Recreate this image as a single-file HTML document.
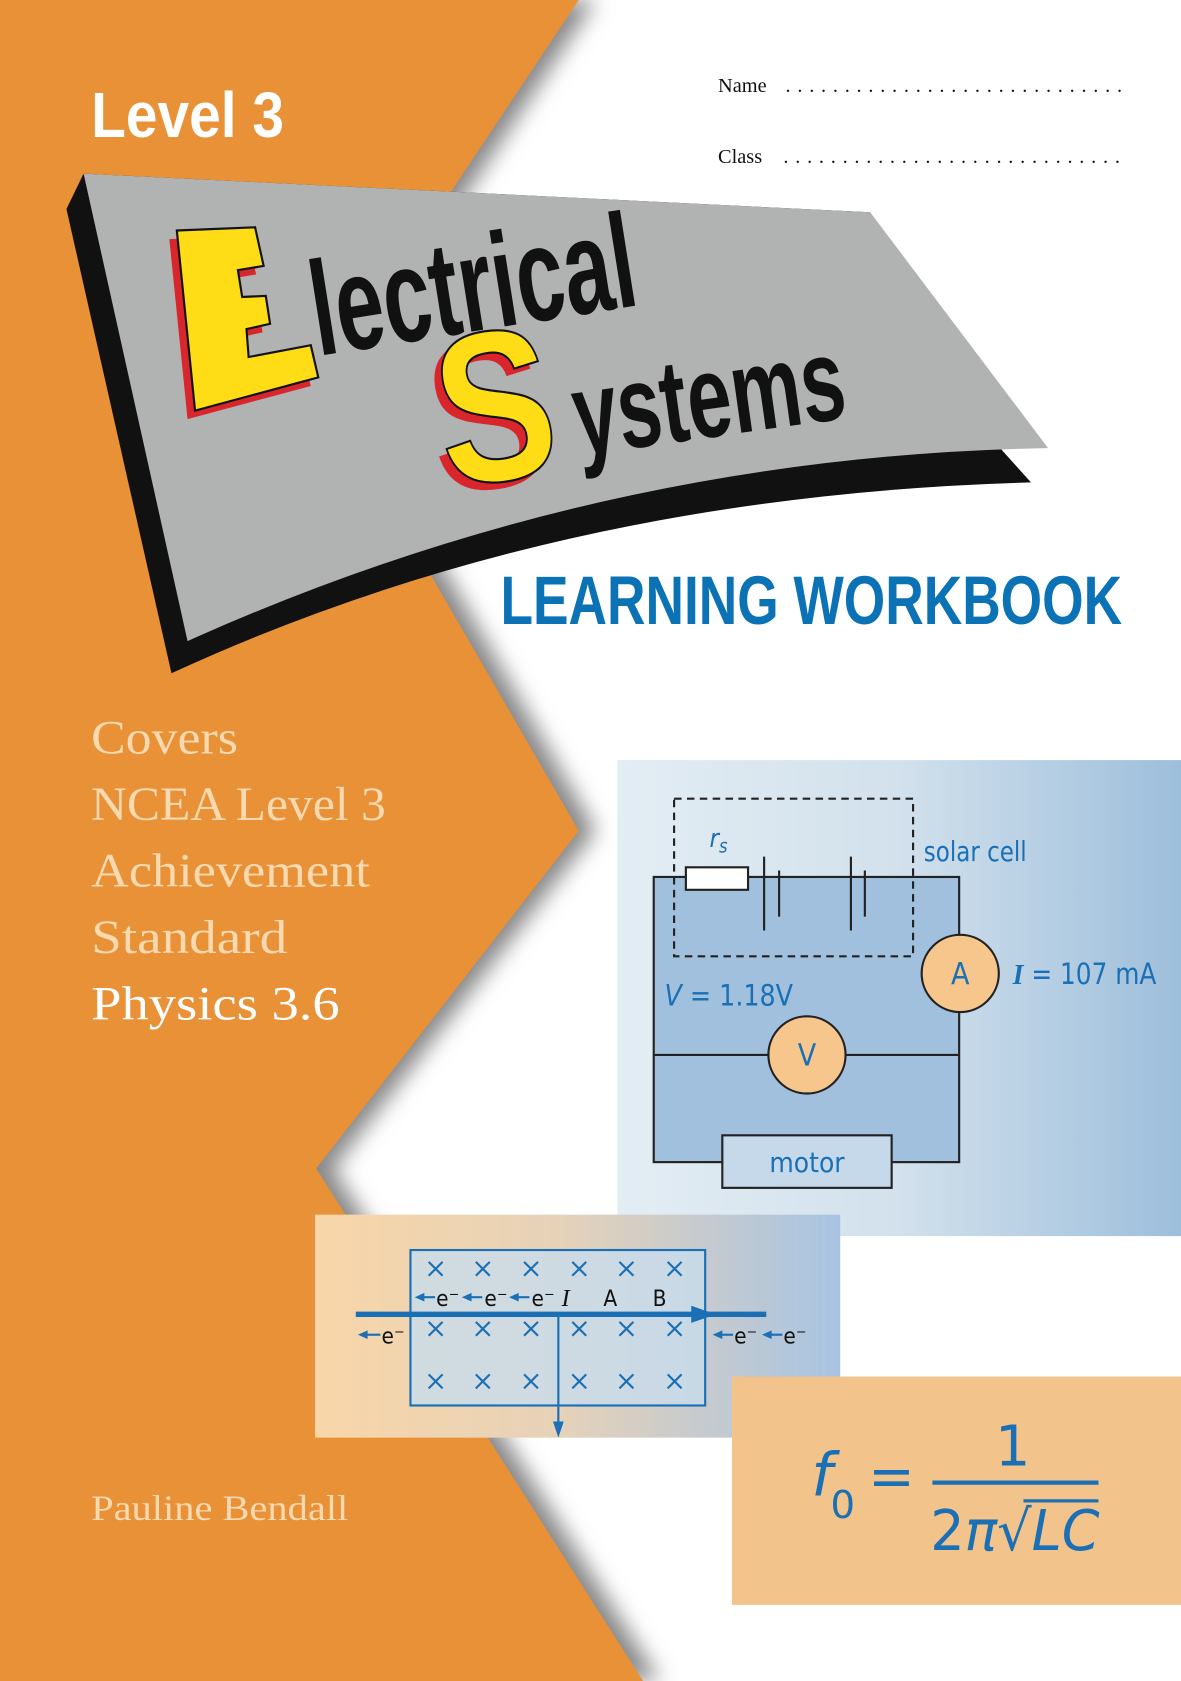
<!DOCTYPE html>
<html><head><meta charset="utf-8"><style>
html,body{margin:0;padding:0;background:#fff;}
svg{display:block;}
</style></head><body>
<svg width="1181" height="1681" viewBox="0 0 1102 1568" preserveAspectRatio="none" xmlns="http://www.w3.org/2000/svg">
<defs>
<filter id="bl" x="-20%" y="-20%" width="140%" height="140%"><feGaussianBlur stdDeviation="10"/></filter>
<linearGradient id="g1" x1="0" x2="1" y1="0" y2="0"><stop offset="0" stop-color="#e3edf4"/><stop offset="0.5" stop-color="#d2e1ec"/><stop offset="1" stop-color="#9dbedb"/></linearGradient>
<linearGradient id="g2" x1="0" x2="1" y1="0" y2="0"><stop offset="0" stop-color="#f8d6a8"/><stop offset="0.45" stop-color="#e7d2b8"/><stop offset="1" stop-color="#a8c4e2"/></linearGradient>
</defs>
<rect width="1102" height="1568" fill="#fff"/>
<polygon points="0,0 540,0 300,360 540,775 295,1090 600,1568 0,1568" fill="#888" filter="url(#bl)" transform="translate(16,0)"/>
<polygon points="0,0 540,0 300,360 540,775 295,1090 600,1568 0,1568" fill="#e99137"/>
<!-- banner -->
<path d="M62,195 L160,628 Q520,462 962,450 L935,420 L812,198 L78,162 Z" fill="#111"/>
<path d="M78,162 L812,198 L978,418 Q560,425 175,598 Z" fill="#b1b3b2"/>
<!-- E -->
<g transform="translate(-7,8)"><polygon points="165,215 238,212 246,248 222,252 226,277 248,276 252,302 230,307 232,333 290,322 297,352 182,383" fill="#d9262c"/></g>
<polygon points="165,215 238,212 246,248 222,252 226,277 248,276 252,302 230,307 232,333 290,322 297,352 182,383" fill="#fedd16" stroke="#111" stroke-width="2"/>
<text x="297" y="332" transform="rotate(-9 297 332)" font-family="Liberation Sans Narrow, Liberation Sans, sans-serif" font-weight="bold" font-size="125" fill="#111" textLength="305" lengthAdjust="spacingAndGlyphs">lectrical</text>
<text x="410" y="462" transform="rotate(-8 410 462)" font-family="Liberation Sans, sans-serif" font-weight="bold" font-size="200" fill="#d9262c" textLength="110" lengthAdjust="spacingAndGlyphs">S</text>
<text x="417" y="455" transform="rotate(-8 417 455)" font-family="Liberation Sans, sans-serif" font-weight="bold" font-size="200" fill="#fedd16" stroke="#111" stroke-width="2" textLength="110" lengthAdjust="spacingAndGlyphs">S</text>
<text x="540" y="425" transform="rotate(-8 540 425)" font-family="Liberation Sans Narrow, Liberation Sans, sans-serif" font-weight="bold" font-size="110" fill="#111" textLength="255" lengthAdjust="spacingAndGlyphs">ystems</text>
<!-- headers -->
<text x="85" y="128" font-family="Liberation Sans, sans-serif" font-weight="bold" font-size="60" fill="#fff" textLength="180" lengthAdjust="spacingAndGlyphs">Level 3</text>
<g font-family="Liberation Serif, serif" font-size="19" fill="#111">
<text x="670" y="86">Name</text>
<text x="733" y="86" textLength="314" lengthAdjust="spacing">.............................</text>
<text x="670" y="152">Class</text>
<text x="731" y="152" textLength="314" lengthAdjust="spacing">.............................</text>
</g>
<text x="467" y="582" font-family="Liberation Sans, sans-serif" font-weight="bold" font-size="64" fill="#0a72b5" textLength="580" lengthAdjust="spacingAndGlyphs">LEARNING WORKBOOK</text>
<!-- left text -->
<g font-family="Liberation Serif, serif" font-size="44" fill="#f8d9b0">
<text x="85" y="703" textLength="137" lengthAdjust="spacingAndGlyphs">Covers</text>
<text x="85" y="765" textLength="275" lengthAdjust="spacingAndGlyphs">NCEA Level 3</text>
<text x="85" y="827" textLength="260" lengthAdjust="spacingAndGlyphs">Achievement</text>
<text x="85" y="889" textLength="183" lengthAdjust="spacingAndGlyphs">Standard</text>
<text x="85" y="951" fill="#fff" textLength="232" lengthAdjust="spacingAndGlyphs">Physics 3.6</text>
<text x="85" y="1418" font-size="34" textLength="240" lengthAdjust="spacingAndGlyphs">Pauline Bendall</text>
</g>
<!-- circuit panel -->
<rect x="576" y="709" width="526" height="444" fill="url(#g1)"/>
<rect x="610" y="818" width="285" height="266" fill="#a0c0dd" stroke="#222" stroke-width="2"/>
<line x1="610" y1="984" x2="895" y2="984" stroke="#222" stroke-width="2"/>
<rect x="629" y="745" width="223" height="147" fill="none" stroke="#222" stroke-width="2" stroke-dasharray="7,5"/>
<rect x="640" y="809" width="58" height="21" fill="#fff" stroke="#222" stroke-width="2"/>
<line x1="713" y1="799" x2="713" y2="868" stroke="#222" stroke-width="2"/>
<line x1="727" y1="812" x2="727" y2="855" stroke="#222" stroke-width="2"/>
<line x1="794" y1="799" x2="794" y2="868" stroke="#222" stroke-width="2"/>
<line x1="807" y1="812" x2="807" y2="855" stroke="#222" stroke-width="2"/>
<circle cx="896" cy="908" r="36" fill="#f6c68c" stroke="#222" stroke-width="2"/>
<circle cx="753" cy="984" r="36" fill="#f6c68c" stroke="#222" stroke-width="2"/>
<rect x="674" y="1059" width="158" height="49" fill="#c5d9ea" stroke="#222" stroke-width="2"/>
<g font-family="DejaVu Sans Condensed, Liberation Sans, sans-serif" fill="#1a6fb5">
<text x="662" y="790" font-size="24" font-style="italic">r<tspan font-size="17" dy="5">s</tspan></text>
<text x="862" y="803" font-size="26" textLength="96" lengthAdjust="spacingAndGlyphs">solar cell</text>
<text x="896" y="918" font-size="28" text-anchor="middle">A</text>
<text x="753" y="994" font-size="28" text-anchor="middle">V</text>
<text x="945" y="918" font-size="27" textLength="134" lengthAdjust="spacingAndGlyphs"><tspan font-style="italic" font-family="Liberation Serif, serif" font-weight="bold">I</tspan> = 107 mA</text>
<text x="620" y="938" font-size="27" textLength="120" lengthAdjust="spacingAndGlyphs"><tspan font-style="italic">V</tspan> = 1.18V</text>
<text x="753" y="1093" font-size="26" text-anchor="middle">motor</text>
</g>
<!-- field panel -->
<rect x="294" y="1133" width="490" height="208" fill="url(#g2)"/>
<rect x="383" y="1166" width="275" height="145" fill="#c8dcec" fill-opacity="0.8" stroke="#1a6fb5" stroke-width="2"/>
<g stroke="#1a6fb5" stroke-width="2">
<path d="M400,1177l13,13m0,-13l-13,13 M444,1177l13,13m0,-13l-13,13 M489,1177l13,13m0,-13l-13,13 M534,1177l13,13m0,-13l-13,13 M578,1177l13,13m0,-13l-13,13 M623,1177l13,13m0,-13l-13,13"/>
<path d="M400,1233l13,13m0,-13l-13,13 M444,1233l13,13m0,-13l-13,13 M489,1233l13,13m0,-13l-13,13 M534,1233l13,13m0,-13l-13,13 M578,1233l13,13m0,-13l-13,13 M623,1233l13,13m0,-13l-13,13"/>
<path d="M400,1282l13,13m0,-13l-13,13 M444,1282l13,13m0,-13l-13,13 M489,1282l13,13m0,-13l-13,13 M534,1282l13,13m0,-13l-13,13 M578,1282l13,13m0,-13l-13,13 M623,1282l13,13m0,-13l-13,13"/>
<line x1="332" y1="1226" x2="715" y2="1226" stroke-width="5"/>
<line x1="521" y1="1226" x2="521" y2="1330"/>
<line x1="393" y1="1210" x2="406" y2="1210"/><line x1="437" y1="1210" x2="450" y2="1210"/><line x1="481" y1="1210" x2="494" y2="1210"/>
<line x1="342" y1="1245" x2="355" y2="1245"/><line x1="671" y1="1245" x2="684" y2="1245"/><line x1="717" y1="1245" x2="730" y2="1245"/>
</g>
<g fill="#1a6fb5">
<polygon points="645,1218 668,1226 645,1234"/>
<polygon points="516,1326 521,1341 526,1326"/>
<polygon points="387,1210 396,1206 396,1214"/><polygon points="431,1210 440,1206 440,1214"/><polygon points="475,1210 484,1206 484,1214"/>
<polygon points="334,1245 343,1241 343,1249"/><polygon points="665,1245 674,1241 674,1249"/><polygon points="711,1245 720,1241 720,1249"/>
</g>
<g font-family="DejaVu Sans Condensed, Liberation Sans, sans-serif" font-size="21" fill="#111">
<text x="407" y="1218">e⁻</text><text x="452" y="1218">e⁻</text><text x="496" y="1218">e⁻</text>
<text x="524" y="1218" font-family="Liberation Serif, serif" font-style="italic" font-size="23">I</text>
<text x="563" y="1218">A</text><text x="609" y="1218">B</text>
<text x="356" y="1253">e⁻</text><text x="685" y="1253">e⁻</text><text x="731" y="1253">e⁻</text>
</g>
<!-- formula -->
<rect x="683" y="1284" width="419" height="213" fill="#f2c48c"/>
<g font-family="DejaVu Sans, Liberation Sans, sans-serif" fill="#1a6fb5">
<text x="757" y="1395" font-size="56" font-style="italic">f</text>
<text x="775" y="1416" font-size="36">0</text>
<text x="810" y="1395" font-size="52">=</text>
<text x="945" y="1367" font-size="52" text-anchor="middle">1</text>
<text x="868" y="1446" font-size="52" textLength="158" lengthAdjust="spacingAndGlyphs">2<tspan font-style="italic">π</tspan>√<tspan font-style="italic">LC</tspan></text>
</g>
<line x1="870" y1="1383" x2="1025" y2="1383" stroke="#1a6fb5" stroke-width="4"/>
<line x1="955" y1="1400" x2="1025" y2="1400" stroke="#1a6fb5" stroke-width="3"/>
</svg>
</body></html>
